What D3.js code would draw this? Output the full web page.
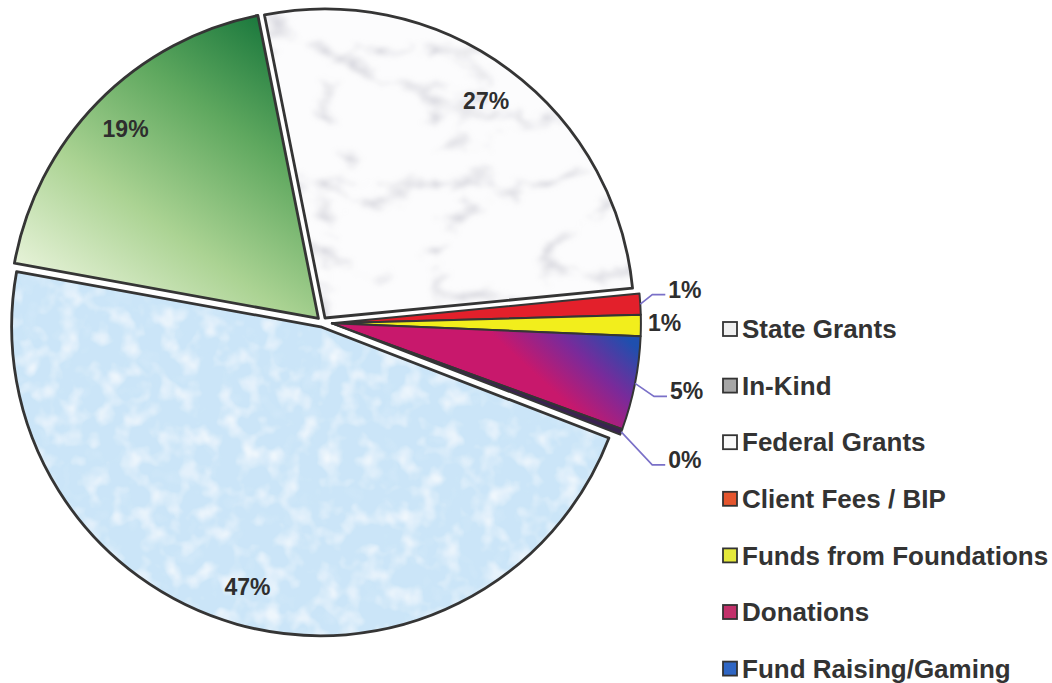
<!DOCTYPE html>
<html>
<head>
<meta charset="utf-8">
<script src="https://cdn.jsdelivr.net/npm/d3@7"></script>
<style>
  html, body { margin: 0; padding: 0; background: #fff; }
  svg { display: block; font-family: "Liberation Sans", Arial, sans-serif; }
</style>
</head>
<body>
<svg id="chart" width="1052" height="683"></svg>
<script>
// legend order
var categories = ["State Grants", "In-Kind", "Federal Grants", "Client Fees / BIP",
                  "Funds from Foundations", "Donations", "Fund Raising/Gaming"];
// share of funding, percent
var shares = [26.6, 19.0, 47.0, 1.1, 1.1, 4.9, 0.3];
// clockwise order of the slices in the pie
var pieOrder = ["State Grants", "Client Fees / BIP", "Funds from Foundations", "Donations",
                "Fund Raising/Gaming", "Federal Grants", "In-Kind"];
var startDeg = -11.3;

var cx = 322, cy = 322, radius = 309;
var svg = d3.select("#chart");
var defs = svg.append("defs");

// marble texture
var fm = defs.append("filter").attr("id", "fMarble");
fm.append("feTurbulence").attr("type", "turbulence").attr("baseFrequency", "0.009 0.015")
  .attr("numOctaves", 5).attr("seed", 11).attr("result", "t");
fm.append("feColorMatrix").attr("in", "t").attr("type", "matrix")
  .attr("values", "0 0 0 0 0.55  0 0 0 0 0.55  0 0 0 0 0.62  -3.4 0 0 0 0.8").attr("result", "v");
fm.append("feGaussianBlur").attr("in", "v").attr("stdDeviation", 2.2).attr("result", "vb");
fm.append("feComposite").attr("in", "vb").attr("in2", "SourceGraphic").attr("operator", "in").attr("result", "vc");
var mm = fm.append("feMerge");
mm.append("feMergeNode").attr("in", "SourceGraphic");
mm.append("feMergeNode").attr("in", "vc");

// light blue cloudy texture
var fc = defs.append("filter").attr("id", "fCloud");
fc.append("feTurbulence").attr("type", "fractalNoise").attr("baseFrequency", "0.05")
  .attr("numOctaves", 3).attr("seed", 3).attr("result", "n0");
fc.append("feGaussianBlur").attr("in", "n0").attr("stdDeviation", 1.5).attr("result", "n");
fc.append("feColorMatrix").attr("in", "n").attr("type", "matrix")
  .attr("values", "0 0 0 0 1  0 0 0 0 1  0 0 0 0 1  1.8 0 0 0 -0.85").attr("result", "w");
fc.append("feColorMatrix").attr("in", "n").attr("type", "matrix")
  .attr("values", "0 0 0 0 0.68  0 0 0 0 0.83  0 0 0 0 0.96  0 -1.8 0 0 0.8").attr("result", "b");
fc.append("feComposite").attr("in", "w").attr("in2", "SourceGraphic").attr("operator", "in").attr("result", "wc");
fc.append("feComposite").attr("in", "b").attr("in2", "SourceGraphic").attr("operator", "in").attr("result", "bc");
var mc = fc.append("feMerge");
mc.append("feMergeNode").attr("in", "SourceGraphic");
mc.append("feMergeNode").attr("in", "bc");
mc.append("feMergeNode").attr("in", "wc");

var gg = defs.append("linearGradient").attr("id", "gGreen").attr("gradientUnits", "userSpaceOnUse")
  .attr("x1", -58).attr("y1", -298).attr("x2", -258).attr("y2", -18);
[[0, "#1d7a3e"], [0.3, "#5fa85f"], [0.65, "#abd393"], [1, "#e8f3da"]].forEach(function(s) {
  gg.append("stop").attr("offset", s[0]).attr("stop-color", s[1]);
});
var gd = defs.append("linearGradient").attr("id", "gDon").attr("gradientUnits", "userSpaceOnUse")
  .attr("x1", 300).attr("y1", 20).attr("x2", 240).attr("y2", 85);
[[0, "#1f4fae"], [0.5, "#7a2a9a"], [1, "#c8186c"]].forEach(function(s) {
  gd.append("stop").attr("offset", s[0]).attr("stop-color", s[1]);
});

var fillFor = {
  "State Grants": "#fcfcfd", "In-Kind": "url(#gGreen)", "Federal Grants": "#cbe5f8",
  "Client Fees / BIP": "#e3202b", "Funds from Foundations": "#f2ee1c",
  "Donations": "url(#gDon)", "Fund Raising/Gaming": "#3a2250"
};
var filterFor = { "State Grants": "url(#fMarble)", "Federal Grants": "url(#fCloud)" };
var swatchFor = {
  "State Grants": "#f0f0f0", "In-Kind": "#a6a6a6", "Federal Grants": "#fafafa",
  "Client Fees / BIP": "#e4552e", "Funds from Foundations": "#e4e83a",
  "Donations": "#c2306a", "Fund Raising/Gaming": "#2f66c4"
};

var total = d3.sum(shares);
var data = pieOrder.map(function(name) {
  return { name: name, value: shares[categories.indexOf(name)] };
});
var a0 = startDeg * Math.PI / 180;
var pie = d3.pie().sort(null).value(function(d) { return d.value; })
  .startAngle(a0).endAngle(a0 + 2 * Math.PI);
var arcs = pie(data);
var arc = d3.arc().innerRadius(0).outerRadius(radius);
var pct = function(v) { return d3.format(".0f")(v / total * 100) + "%"; };

var isSmall = function(a) { return a.data.value / total < 0.1; };
var smalls = arcs.filter(isSmall);
var smallMid = (d3.min(smalls, function(a) { return a.startAngle; }) +
                d3.max(smalls, function(a) { return a.endAngle; })) / 2;
var offsetOf = function(a) {
  var ang = isSmall(a) ? smallMid : (a.startAngle + a.endAngle) / 2;
  var d = isSmall(a) ? 10 : 5;
  return [d * Math.sin(ang), -d * Math.cos(ang)];
};

var slices = svg.selectAll("g.slice").data(arcs).enter().append("g")
  .attr("class", "slice")
  .attr("transform", function(a) { var o = offsetOf(a); return "translate(" + (cx + o[0]) + "," + (cy + o[1]) + ")"; });
slices.append("path").attr("d", arc)
  .attr("fill", function(a) { return fillFor[a.data.name]; })
  .attr("filter", function(a) { return filterFor[a.data.name] || null; });
slices.append("path").attr("d", arc)
  .attr("fill", "none").attr("stroke", "#353535")
  .attr("stroke-width", function(a) { return isSmall(a) ? 2 : 2.8; })
  .attr("stroke-linejoin", "round");

// labels inside big slices
var labelArc = d3.arc().innerRadius(radius * 0.875).outerRadius(radius * 0.875);
slices.filter(function(a) { return !isSmall(a); }).append("text")
  .attr("transform", function(a) { return "translate(" + labelArc.centroid(a) + ")"; })
  .attr("text-anchor", "middle").attr("dy", "0.35em")
  .attr("font-size", 23).attr("font-weight", "bold").attr("fill", "#2e2e2e")
  .text(function(a) { return pct(a.data.value); });

// outside labels for the small slices
var nudge = {
  "Client Fees / BIP": [28, -14.5], "Funds from Foundations": [7, -3],
  "Donations": [35, 8], "Fund Raising/Gaming": [47, 28]
};
smalls.forEach(function(a) {
  var o = offsetOf(a), m = (a.startAngle + a.endAngle) / 2;
  var ex = cx + o[0] + radius * Math.sin(m), ey = cy + o[1] - radius * Math.cos(m);
  var n = nudge[a.data.name];
  var lx = ex + n[0], ly = ey + n[1];
  if (n[0] > 15) {
    svg.append("polyline")
      .attr("points", [[ex, ey], [lx - 16, ly + 5], [lx - 3, ly + 5]].join(" "))
      .attr("fill", "none").attr("stroke", "#7a70c8").attr("stroke-width", 1.6);
  }
  svg.append("text").attr("x", lx).attr("y", ly).attr("dy", "0.35em")
    .attr("font-size", 23).attr("font-weight", "bold").attr("fill", "#2e2e2e")
    .text(pct(a.data.value));
});

// legend
var legend = svg.selectAll("g.legend").data(categories).enter().append("g")
  .attr("class", "legend")
  .attr("transform", function(d, i) { return "translate(723," + (329 + i * 56.6) + ")"; });
legend.append("rect").attr("x", 0).attr("y", -7).attr("width", 14).attr("height", 14)
  .attr("fill", function(d) { return swatchFor[d]; })
  .attr("stroke", "#333").attr("stroke-width", 1.8);
legend.append("text").attr("x", 19).attr("dy", "0.35em")
  .attr("font-size", 26).attr("font-weight", "bold").attr("fill", "#333")
  .text(function(d) { return d; });
</script>
</body>
</html>
